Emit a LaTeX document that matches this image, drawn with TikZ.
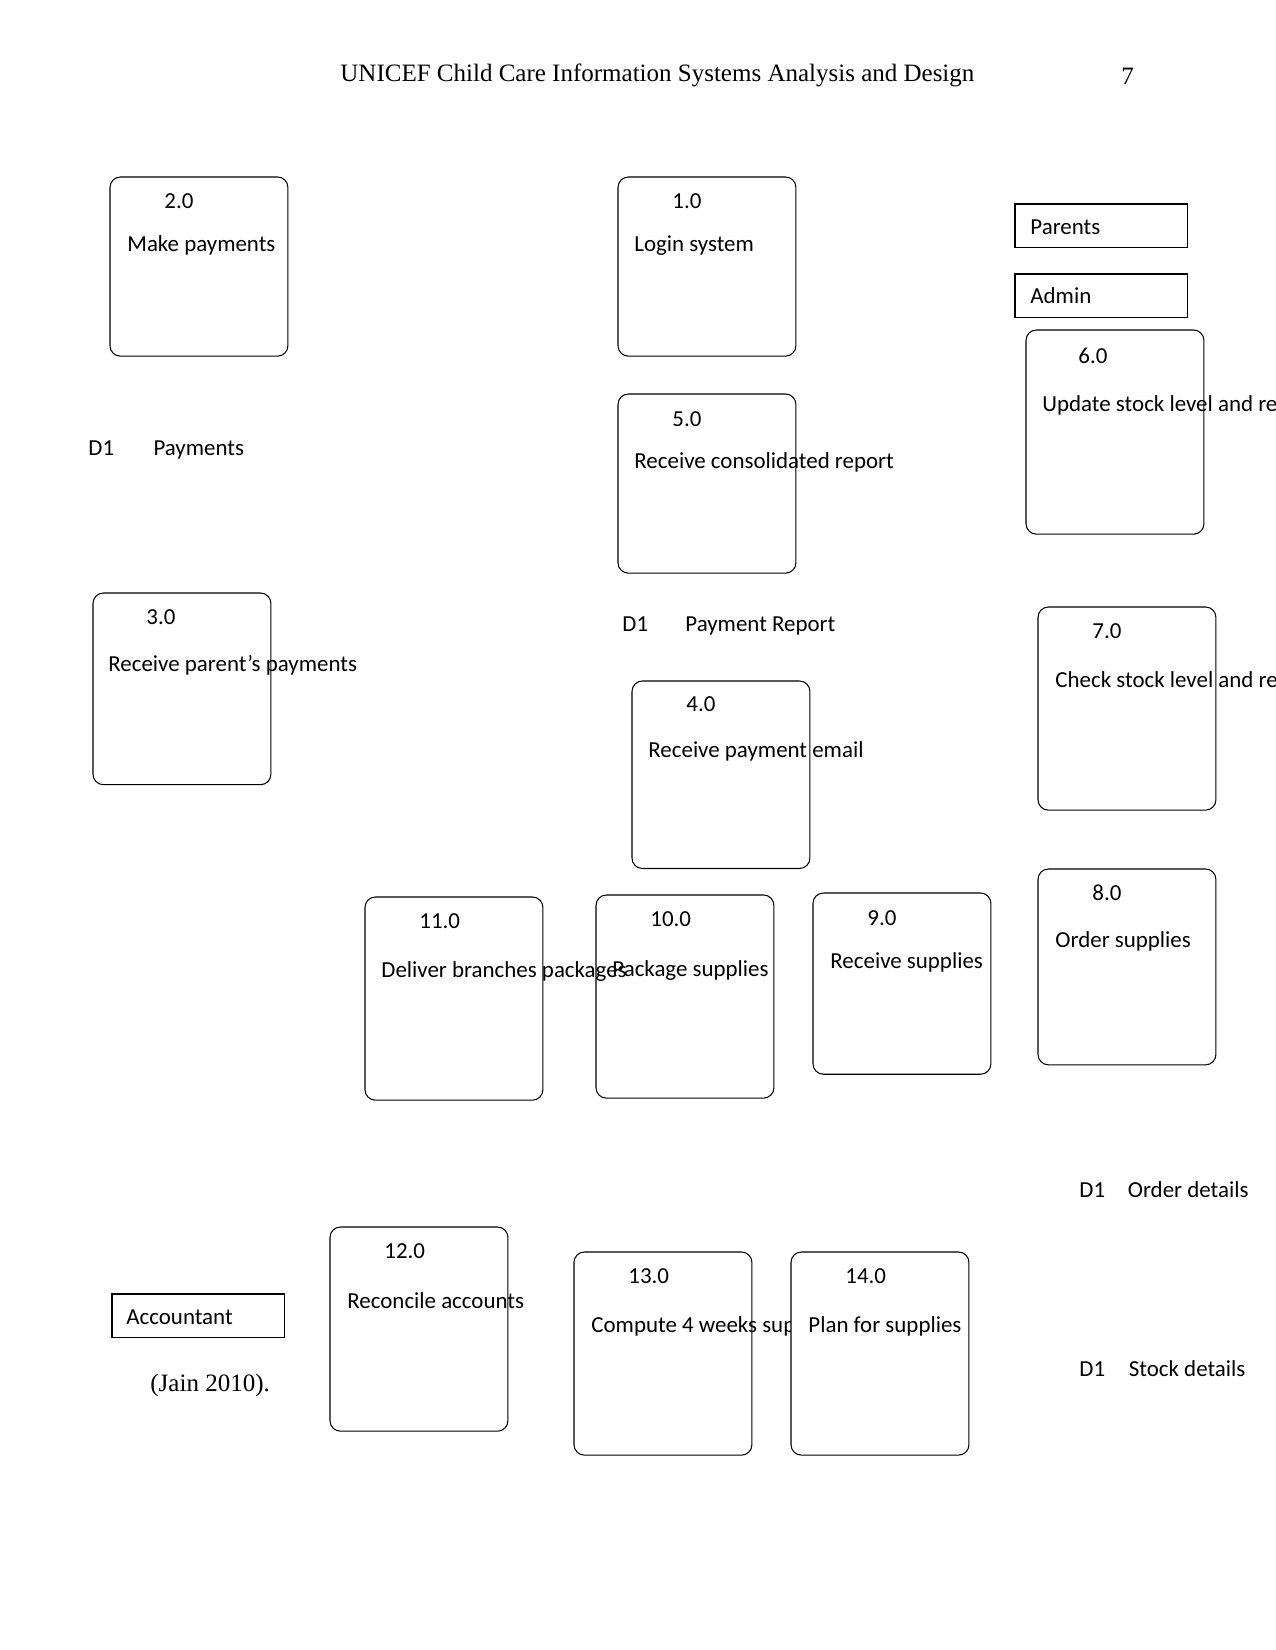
\documentclass[tikz,border=0pt]{standalone}
\usepackage{fontspec}
\setmainfont{Carlito}
\newfontfamily\timesfont{Liberation Serif}
\usetikzlibrary{positioning, calc}

\begin{document}
\begin{tikzpicture}[
        x=0.48pt, y=-0.48pt,
        proc/.style={rectangle, draw=black, fill=white, line width=0.5pt, rounded corners=5pt, minimum width=85.4pt, anchor=north west, inner sep=0pt, outer sep=0pt},
        ent/.style={rectangle, draw=black, fill=white, line width=0.5pt, minimum width=83pt, minimum height=21pt, anchor=north west, inner sep=0pt, outer sep=0pt},
        lbl/.style={anchor=base west, inner sep=0pt, yshift=-0.5pt, font=\fontsize{11pt}{13pt}\selectfont},
        head/.style={anchor=base west, inner sep=0pt, font=\timesfont\fontsize{12pt}{14pt}\selectfont}
    ]
        \useasboundingbox (0,0) rectangle (1275,1650);
        % page header
        \node[head] (title) at (340,82) {UNICEF Child Care Information Systems Analysis and Design};
        \node[head] (page) at (1121,85) {7};

        % external entities
        \node[ent] (parents) at (1015,204) {};
        \node[lbl] (parentsT) at ($(parents.north west)+(15,29)$) {Parents};
        \node[ent] (admin) at (1015,274) {};
        \node[lbl] (adminT) at ($(admin.north west)+(15,28)$) {Admin};
        \node[ent] (accountant) at (112,1294) {};
        \node[lbl] (accountantT) at ($(accountant.north west)+(14,29)$) {Accountant};

        % processes
        \node[proc, minimum height=86pt] (p1) at (618,177) {};
        \node[lbl] (p1N) at ($(p1.north west)+(54,30)$) {1.0};
        \node[lbl] (p1T) at ($(p1.north west)+(16,73)$) {Login system};

        \node[proc, minimum height=86pt] (p2) at (110,177) {};
        \node[lbl] (p2N) at ($(p2.north west)+(54,30)$) {2.0};
        \node[lbl] (p2T) at ($(p2.north west)+(17,73)$) {Make payments};

        \node[proc, minimum height=92pt] (p3) at (93,593) {};
        \node[lbl] (p3N) at ($(p3.north west)+(53,30)$) {3.0};
        \node[lbl] (p3T) at ($(p3.north west)+(15,77)$) {Receive parent’s payments};

        \node[proc, minimum height=90pt] (p4) at (632,681) {};
        \node[lbl] (p4N) at ($(p4.north west)+(54,29)$) {4.0};
        \node[lbl] (p4T) at ($(p4.north west)+(16,75)$) {Receive payment email};

        \node[proc, minimum height=86pt] (p5) at (618,394) {};
        \node[lbl] (p5N) at ($(p5.north west)+(54,31)$) {5.0};
        \node[lbl] (p5T) at ($(p5.north west)+(16,73)$) {Receive consolidated report};

        \node[proc, minimum height=98pt] (p6) at (1026,330) {};
        \node[lbl] (p6N) at ($(p6.north west)+(52,32)$) {6.0};
        \node[lbl] (p6T) at ($(p6.north west)+(16,80)$) {Update stock level and reorder level};

        \node[proc, minimum height=97.5pt] (p7) at (1038,607) {};
        \node[lbl] (p7N) at ($(p7.north west)+(54,30)$) {7.0};
        \node[lbl] (p7T) at ($(p7.north west)+(17,79)$) {Check stock level and reorder level};

        \node[proc, minimum height=94pt] (p8) at (1038,869) {};
        \node[lbl] (p8N) at ($(p8.north west)+(54,30)$) {8.0};
        \node[lbl] (p8T) at ($(p8.north west)+(17,77)$) {Order supplies};

        \node[proc, minimum height=87pt] (p9) at (813,893) {};
        \node[lbl] (p9N) at ($(p9.north west)+(54,31)$) {9.0};
        \node[lbl] (p9T) at ($(p9.north west)+(17,74)$) {Receive supplies};

        \node[proc, minimum height=97.5pt] (p10) at (596,895) {};
        \node[lbl] (p10N) at ($(p10.north west)+(54,30)$) {10.0};
        \node[lbl] (p10T) at ($(p10.north west)+(16,80)$) {Package supplies};

        \node[proc, minimum height=97.5pt] (p11) at (365,897) {};
        \node[lbl] (p11N) at ($(p11.north west)+(54,30)$) {11.0};
        \node[lbl] (p11T) at ($(p11.north west)+(16,79)$) {Deliver branches packages};

        \node[proc, minimum height=98pt] (p12) at (330,1227) {};
        \node[lbl] (p12N) at ($(p12.north west)+(54,30)$) {12.0};
        \node[lbl] (p12T) at ($(p12.north west)+(17,80)$) {Reconcile accounts};

        \node[proc, minimum height=97.5pt] (p13) at (574,1252) {};
        \node[lbl] (p13N) at ($(p13.north west)+(54,30)$) {13.0};
        \node[lbl] (p13T) at ($(p13.north west)+(17,79)$) {Compute 4 weeks supplies};

        \node[proc, minimum height=97.5pt] (p14) at (791,1252) {};
        \node[lbl] (p14N) at ($(p14.north west)+(54,30)$) {14.0};
        \node[lbl] (p14T) at ($(p14.north west)+(17,79)$) {Plan for supplies};

        % data stores
        \node[lbl] (d1a) at (88,454) {D1};
        \node[lbl, yshift=0.5pt, right=18.5pt of d1a.base east, anchor=base west] (payments) {Payments};
        \node[lbl] (d1b) at (622,630) {D1};
        \node[lbl, yshift=0.5pt, right=17.5pt of d1b.base east, anchor=base west] (payreport) {Payment Report};
        \node[lbl] (d1c) at (1079,1196) {D1};
        \node[lbl, yshift=0.5pt, right=10.5pt of d1c.base east, anchor=base west] (orderdet) {Order details};
        \node[lbl] (d1d) at (1079,1375) {D1};
        \node[lbl, yshift=0.5pt, right=11pt of d1d.base east, anchor=base west] (stockdet) {Stock details};

        % citation
        \node[head] (cite) at (150,1391) {(Jain 2010).};
    \end{tikzpicture}
\end{document}
